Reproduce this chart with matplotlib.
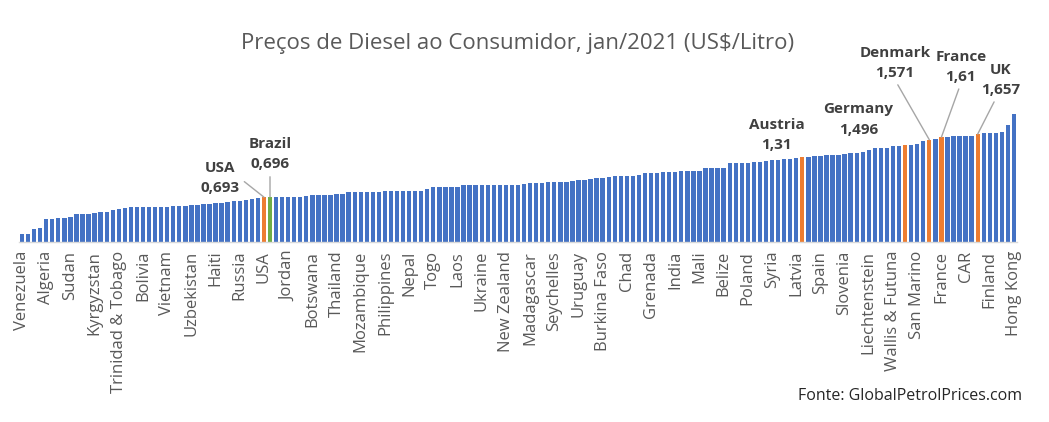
import matplotlib
matplotlib.use('Agg')
import matplotlib.pyplot as plt

# diesel prices (US$/litre), sorted ascending, one bar per country
prices = [
    0.125, 0.134, 0.206, 0.217, 0.363, 0.363, 0.379, 0.379, 0.389, 0.430,
    0.430, 0.430, 0.446, 0.470, 0.470, 0.496, 0.510, 0.520, 0.537, 0.537,
    0.540, 0.540, 0.550, 0.550, 0.550, 0.560, 0.560, 0.560, 0.575, 0.575,
    0.590, 0.590, 0.605, 0.610, 0.620, 0.630, 0.640, 0.650, 0.665, 0.680,
    0.693, 0.696, 0.700, 0.700, 0.700, 0.701, 0.702, 0.715, 0.725, 0.725,
    0.725, 0.727, 0.745, 0.745, 0.765, 0.765, 0.765, 0.766, 0.766, 0.775,
    0.790, 0.790, 0.790, 0.790, 0.790, 0.791, 0.792, 0.825, 0.847, 0.847,
    0.847, 0.847, 0.848, 0.873, 0.873, 0.873, 0.873, 0.875, 0.883, 0.883,
    0.883, 0.883, 0.884, 0.888, 0.904, 0.904, 0.913, 0.924, 0.924, 0.924,
    0.925, 0.939, 0.954, 0.954, 0.965, 0.980, 0.980, 0.995, 1.015, 1.015,
    1.015, 1.016, 1.026, 1.061, 1.061, 1.062, 1.076, 1.076, 1.077, 1.092,
    1.092, 1.100, 1.100, 1.133, 1.133, 1.133, 1.134, 1.209, 1.209, 1.209,
    1.210, 1.224, 1.224, 1.245, 1.260, 1.262, 1.275, 1.275, 1.290, 1.310,
    1.310, 1.320, 1.320, 1.345, 1.345, 1.345, 1.346, 1.370, 1.370, 1.385,
    1.420, 1.447, 1.447, 1.448, 1.478, 1.478, 1.496, 1.496, 1.508, 1.545,
    1.571, 1.580, 1.610, 1.613, 1.621, 1.621, 1.621, 1.622, 1.657, 1.667,
    1.667, 1.667, 1.690, 1.800, 1.970,
]

# only every 4th category name is shown on the axis
tick_step = 4
tick_labels = [
    'Venezuela', 'Algeria', 'Sudan', 'Kyrgyzstan', 'Trinidad & Tobago',
    'Bolivia', 'Vietnam', 'Uzbekistan', 'Haiti', 'Russia', 'USA', 'Jordan',
    'Botswana', 'Thailand', 'Mozambique', 'Philippines', 'Nepal', 'Togo',
    'Laos', 'Ukraine', 'New Zealand', 'Madagascar', 'Seychelles', 'Uruguay',
    'Burkina Faso', 'Chad', 'Grenada', 'India', 'Mali', 'Belize', 'Poland',
    'Syria', 'Latvia', 'Spain', 'Slovenia', 'Liechtenstein',
    'Wallis & Futuna', 'San Marino', 'France', 'CAR', 'Finland', 'Hong Kong',
]

# highlighted countries: name, bar index, printed value, colour
highlight_names = ['USA', 'Brazil', 'Austria', 'Germany', 'Denmark', 'France', 'UK']
highlight_index = [40, 41, 129, 146, 150, 152, 158]
highlight_text  = ['0,693', '0,696', '1,31', '1,496', '1,571', '1,61', '1,657']
highlight_color = ['#ED7D31', '#70AD47', '#ED7D31', '#ED7D31', '#ED7D31', '#ED7D31', '#ED7D31']
# label centre (bar units, value units) and where the leader line leaves the label
label_pos  = [(32.7, 0.99), (41.0, 1.35), (124.8, 1.64), (138.3, 1.88),
              (144.3, 2.75), (155.2, 2.69), (161.8, 2.49)]
label_line = [True, True, False, False, True, True, True]
line_from  = [(1.0, 0.5), (0.5, 0.0), None, None, (0.5, 0.0), (0.5, 0.0), (0.4, 0.0)]

blue = '#4472C4'
colors = [blue] * len(prices)
for i, c in zip(highlight_index, highlight_color):
    colors[i] = c

plt.rcParams['font.family'] = ['Open Sans', 'DejaVu Sans']

fig = plt.figure(figsize=(10.49, 4.22), dpi=100, facecolor='white')
ax = fig.add_axes([0.0181, 0.4254, 0.9514, 0.527])

x = list(range(len(prices)))
ax.bar(x, prices, width=0.72, color=colors, zorder=2)

ax.set_xlim(-0.5, len(prices) - 0.5)
ax.set_ylim(0, 3.40)
ax.set_yticks([])
for s in ['top', 'right', 'left']:
    ax.spines[s].set_visible(False)
ax.spines['bottom'].set_color('#d9d9d9')
ax.spines['bottom'].set_linewidth(1.0)

ax.set_xticks(x[::tick_step])
ax.set_xticklabels(tick_labels, rotation=90, fontsize=12, color='#595959')
ax.tick_params(axis='x', length=0, pad=6)

for name, i, txt, pos, has_line, rel in zip(highlight_names, highlight_index,
                                            highlight_text, label_pos,
                                            label_line, line_from):
    props = None
    if has_line:
        props = dict(arrowstyle='-', color='#a6a6a6', lw=1.0,
                     shrinkA=2, shrinkB=0, relpos=rel)
    ax.annotate(name + '\n' + txt, xy=(i, prices[i]), xytext=pos,
                ha='center', va='center', fontsize=11, fontweight='bold',
                color='#404040', linespacing=1.55, arrowprops=props,
                annotation_clip=False)

fig.text(0.493, 0.896, 'Preços de Diesel ao Consumidor, jan/2021 (US$/Litro)',
         ha='center', va='center', fontsize=16, color='#595959')
fig.text(0.974, 0.062, 'Fonte: GlobalPetrolPrices.com', ha='right', va='center',
         fontsize=11.5, color='#262626')

fig.savefig('out.png', dpi=100, facecolor='white')
